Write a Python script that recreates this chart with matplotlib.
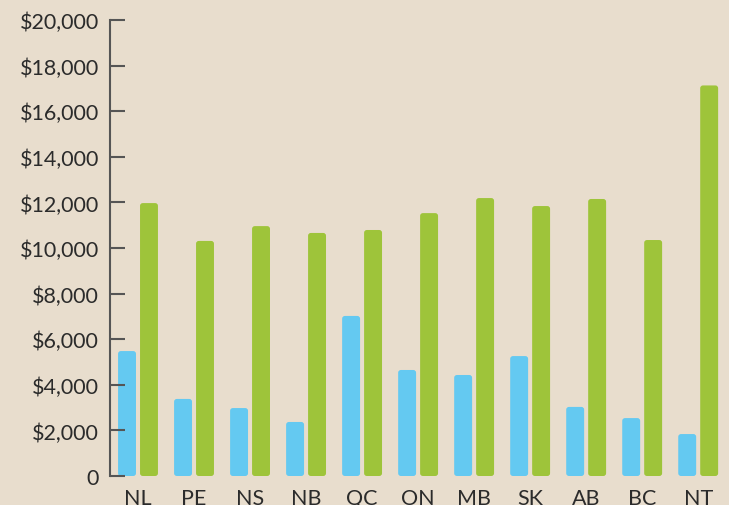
import matplotlib.pyplot as plt
import matplotlib.ticker as ticker
from matplotlib.patches import FancyBboxPatch

# data
provinces = ['NL', 'PE', 'NS', 'NB', 'QC', 'ON', 'MB', 'SK', 'AB', 'BC', 'NT']
blue_vals = [5480, 3380, 2980, 2370, 7020, 4650, 4430, 5260, 3030, 2540, 1840]
green_vals = [11970, 10310, 10960, 10660, 10790, 11530, 12190, 11840, 12150, 10350, 17130]
yticks = [0, 2000, 4000, 6000, 8000, 10000, 12000, 14000, 16000, 18000, 20000]

bg = '#E8DDCD'
blue = '#64C9F1'
green = '#9EC43A'
text_col = '#2B2B2B'

plt.rcParams['font.family'] = ['Lato', 'DejaVu Sans']

fig = plt.figure(figsize=(7.29, 5.06), dpi=100, facecolor=bg)
ax = fig.add_axes([110 / 729, 29 / 506, 619 / 729, 456 / 506])
ax.set_facecolor(bg)

width = 0.32
offset = 0.196
x = list(range(len(provinces)))

# plain bars first (used to get positions), then swap for rounded ones
bars_b = ax.bar([i - offset for i in x], blue_vals, width, color=blue)
bars_g = ax.bar([i + offset for i in x], green_vals, width, color=green)

ax.set_xlim(-0.5, 10.55)
ax.set_ylim(0, 20000)

for bar in list(bars_b) + list(bars_g):
    bx, by = bar.get_xy()
    w, h = bar.get_width(), bar.get_height()
    patch = FancyBboxPatch((bx, by), w, h,
                           boxstyle='round,pad=0,rounding_size=0.05',
                           mutation_aspect=2400,
                           facecolor=bar.get_facecolor(), edgecolor='none')
    bar.remove()
    ax.add_patch(patch)

for s in ['top', 'right', 'bottom']:
    ax.spines[s].set_visible(False)
ax.spines['left'].set_color('#555555')
ax.spines['left'].set_linewidth(1.5)

ax.yaxis.set_major_locator(ticker.FixedLocator(yticks))
ax.yaxis.set_major_formatter(ticker.FuncFormatter(
    lambda v, p: '0' if v == 0 else '${:,.0f}'.format(v)))
ax.tick_params(axis='y', direction='in', length=11, width=1.5, color='#555555',
               labelsize=15.5, labelcolor=text_col, pad=8)

ax.set_xticks(x)
ax.set_xticklabels(provinces)
ax.tick_params(axis='x', length=0, labelsize=15.5, labelcolor=text_col, pad=9)

fig.savefig('out.png', dpi=100, facecolor=bg)
